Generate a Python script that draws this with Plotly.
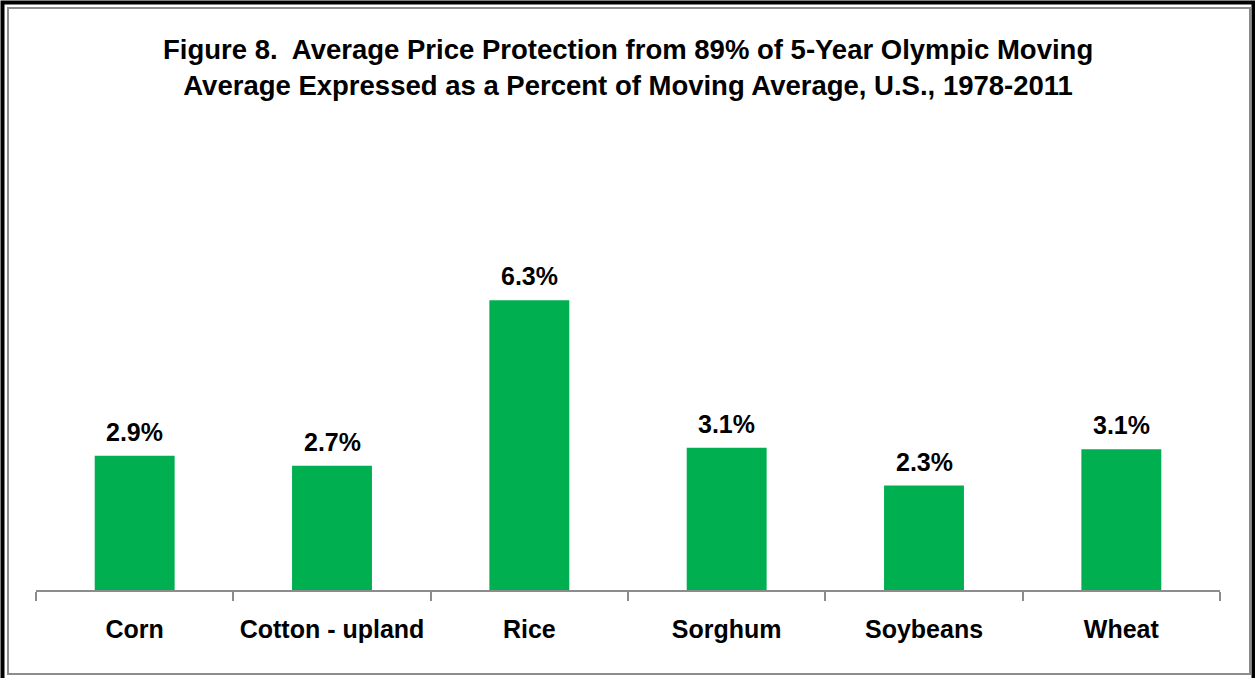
import plotly.graph_objects as go

categories = ["Corn", "Cotton - upland", "Rice", "Sorghum", "Soybeans", "Wheat"]
values = [2.92, 2.70, 6.30, 3.09, 2.27, 3.06]

title_line1 = "Figure 8.  Average Price Protection from 89% of 5-Year Olympic Moving"
title_line2 = "Average Expressed as a Percent of Moving Average, U.S., 1978-2011"

W, H = 1255, 678
L, R, T, B = 36, 35, 130, 88
PW, PH = W - L - R, H - T - B

def px_x(px):
    return (px - L) / PW

def px_y(py):
    return (H - B - py) / PH

FONT = "Liberation Sans, Arial, sans-serif"

fig = go.Figure(
    go.Bar(
        x=categories,
        y=values,
        marker=dict(color="#00B050", line=dict(width=0)),
        cliponaxis=False,
    )
)

annotations = [
    dict(text="<b>" + title_line1 + "<br>" + title_line2 + "</b>",
         x=0.5, xref="paper", y=px_y(68), yref="paper", yanchor="middle",
         showarrow=False, align="center",
         font=dict(family=FONT, size=27.5, color="#000000")),
]
for c, v in zip(categories, values):
    annotations.append(dict(
        text="<b>%.1f%%</b>" % v, x=c, y=v, xref="x", yref="y",
        yanchor="bottom", yshift=8, showarrow=False,
        font=dict(family=FONT, size=25, color="#000000"),
    ))

fig.update_layout(
    width=W,
    height=H,
    margin=dict(l=L, r=R, t=T, b=B),
    paper_bgcolor="white",
    plot_bgcolor="white",
    bargap=0.595,
    showlegend=False,
    font=dict(family=FONT, color="#000000"),
    xaxis=dict(
        showline=True,
        linecolor="#8C8C8C",
        linewidth=2,
        ticks="outside",
        tickson="boundaries",
        ticklen=9,
        tickwidth=2,
        tickcolor="#8C8C8C",
        tickfont=dict(family=FONT, size=25, color="#000000"),
        tickprefix="<b>",
        ticksuffix="</b>",
        ticklabelstandoff=16,
        showgrid=False,
    ),
    yaxis=dict(
        range=[0, 10],
        visible=False,
        showgrid=False,
        zeroline=False,
    ),
    annotations=annotations,
    shapes=[
        dict(type="rect", xref="paper", yref="paper",
             x0=px_x(2.5), x1=px_x(1253.5), y0=px_y(690), y1=px_y(2.5),
             line=dict(color="#000000", width=4), fillcolor="rgba(0,0,0,0)", layer="above"),
        dict(type="rect", xref="paper", yref="paper",
             x0=px_x(8), x1=px_x(1250), y0=px_y(674), y1=px_y(8),
             line=dict(color="#8C8C8C", width=2), fillcolor="rgba(0,0,0,0)", layer="above"),
    ],
)

fig.write_html("out.html", config={"displayModeBar": False},
               post_script="document.body.style.margin='0px';document.body.style.padding='0px';")
